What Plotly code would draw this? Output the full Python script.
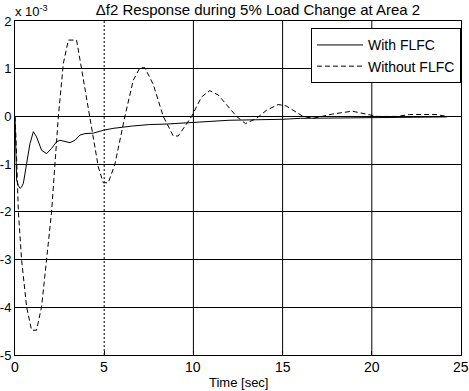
import plotly.graph_objects as go

# Time axis and responses (values in units of 10^-3)
t_with = [0, 0.02, 0.09, 0.19, 0.28, 0.37, 0.47, 0.65, 0.84, 1.03, 1.21, 1.49, 1.77, 2.05,
          2.33, 2.52, 2.8, 3.08, 3.36, 3.64, 3.92, 4.39, 4.95, 5.5, 6.6, 7.56, 8.5, 10.4,
          12.0, 15.0, 16.0, 18.8, 21.0, 24.2]
y_with = [0, -0.5, -1.33, -1.45, -1.51, -1.48, -1.40, -0.99, -0.57, -0.32, -0.43, -0.71,
          -0.78, -0.67, -0.53, -0.50, -0.53, -0.55, -0.50, -0.39, -0.36, -0.35, -0.29,
          -0.25, -0.20, -0.17, -0.16, -0.11, -0.08, -0.06, -0.04, -0.03, -0.02, -0.01]

t_without = [0, 0.05, 0.19, 0.37, 0.65, 0.93, 1.21, 1.49, 1.77, 2.05, 2.43, 2.71, 2.99,
             3.45, 3.73, 4.2, 4.67, 4.95, 5.23, 5.6, 6.16, 6.63, 7.0, 7.28, 7.75, 8.31,
             8.87, 9.15, 9.9, 10.46, 10.92, 11.39, 12.42, 12.92, 13.54, 14.1, 14.75, 15.2,
             16.15, 16.7, 17.8, 18.9, 19.7, 20.3, 21.4, 22.1, 23.6, 24.2]
y_without = [0, -0.4, -2.0, -3.01, -3.99, -4.48, -4.48, -3.99, -3.0, -2.0, 0, 1.11, 1.60,
             1.60, 1.0, 0, -1.06, -1.39, -1.39, -1.0, 0, 0.76, 1.02, 1.02, 0.67, 0, -0.41,
             -0.41, 0, 0.41, 0.54, 0.45, 0, -0.15, -0.04, 0.13, 0.25, 0.22, 0, -0.04, 0.05,
             0.11, 0.05, 0.0, 0.0, 0.04, 0.04, 0.0]

x_ticks = [0, 5, 10, 15, 20, 25]
y_ticks = [-5, -4, -3, -2, -1, 0, 1, 2]
x_grid_solid = [10, 15, 20]
x_grid_dotted = [5]

FONT = "Liberation Sans, Arial, sans-serif"

fig = go.Figure()
fig.add_trace(go.Scatter(x=t_with, y=y_with, mode="lines", name="With FLFC",
                         line=dict(color="black", width=1)))
fig.add_trace(go.Scatter(x=t_without, y=y_without, mode="lines", name="Without FLFC",
                         line=dict(color="black", width=1, dash="5px,3px")))

shapes = []
for gx in x_grid_solid:
    shapes.append(dict(type="line", xref="x", yref="paper", x0=gx, x1=gx, y0=0, y1=1,
                       line=dict(color="black", width=1), layer="below"))
for gx in x_grid_dotted:
    shapes.append(dict(type="line", xref="x", yref="paper", x0=gx, x1=gx, y0=0, y1=1,
                       line=dict(color="black", width=1, dash="2px,2px"), layer="below"))

annotations = [dict(text="x 10<sup>-3</sup>", xref="paper", yref="paper",
                    x=0.0, y=1.0, xanchor="left", yanchor="bottom", showarrow=False,
                    font=dict(size=13, color="black"), xshift=-2, yshift=0),
               dict(text="Time [sec]", xref="paper", yref="paper", x=0.5, y=0,
                    xanchor="center", yanchor="middle", yshift=-27, showarrow=False,
                    font=dict(size=13, color="black"))]
for v in x_ticks:
    annotations.append(dict(text=str(v), xref="x", yref="paper", x=v, y=0,
                            xanchor="center", yanchor="middle", yshift=-12,
                            showarrow=False, font=dict(size=14, color="black")))

fig.update_layout(
    width=469, height=391,
    margin=dict(l=15, r=8, t=21, b=36, autoexpand=False),
    paper_bgcolor="white", plot_bgcolor="white",
    font=dict(family=FONT, size=14, color="black"),
    title=dict(text="Δf2 Response during 5% Load Change at Area 2",
               x=258/469, xanchor="center", xref="container",
               y=1 - 10/391, yanchor="middle", yref="container",
               font=dict(family=FONT, size=15, color="black")),
    xaxis=dict(range=[0, 25], tickvals=x_ticks, showticklabels=False,
               showgrid=False, zeroline=False, showline=True, linecolor="black",
               linewidth=1, mirror=True, ticks="inside", ticklen=4, tickcolor="black",
               automargin=False),
    yaxis=dict(range=[-5, 2], tickvals=y_ticks, ticktext=[str(v) for v in y_ticks],
               showgrid=True, gridcolor="black", gridwidth=1, zeroline=False,
               showline=True, linecolor="black", linewidth=1, mirror=True,
               ticks="inside", ticklen=4, tickcolor="black", tickfont=dict(size=13),
               automargin=False, ticklabelstandoff=0),
    legend=dict(x=1, xanchor="right", y=0.978, yanchor="top",
                bordercolor="black", borderwidth=1, bgcolor="white",
                font=dict(size=14), tracegroupgap=0, itemwidth=46),
    shapes=shapes,
    annotations=annotations,
)

fig.write_html("out.html", config={"displayModeBar": False},
               post_script="document.body.style.margin='0';document.body.style.overflow='hidden';")
